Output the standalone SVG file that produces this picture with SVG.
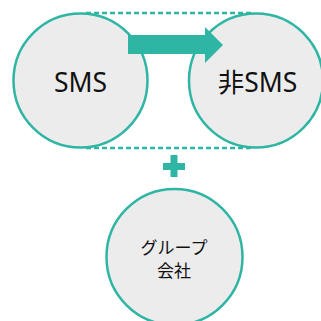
<svg xmlns="http://www.w3.org/2000/svg" width="321" height="321" viewBox="0 0 321 321">
<style>
.node circle{fill:#ececec;stroke:#2fb5a3;stroke-width:2.5}
.dash{stroke:#2fb5a3;stroke-width:2.5;stroke-dasharray:5 3;fill:none}
.lbl{font-family:"Noto Sans","Noto Sans CJK JP",sans-serif;fill:#111;text-anchor:middle}
.jp{font-family:"Noto Sans CJK JP",sans-serif}
.teal{fill:#2fb5a3}
</style>
<rect width="321" height="321" fill="#fff"/>
<g id="connectors">
<line class="dash" x1="86" y1="13" x2="252" y2="13"/>
<line class="dash" x1="86" y1="148" x2="252" y2="148"/>
</g>
<g id="node-sms" class="node">
<circle cx="80.5" cy="80.5" r="67"/>
<text class="lbl" x="80.5" y="92" font-size="26.5">SMS</text>
</g>
<g id="node-nonsms" class="node">
<circle cx="256" cy="80.5" r="67"/>
<text class="lbl" x="257.5" y="92" font-size="26.5">非SMS</text>
</g>
<g id="arrow">
<polygon class="teal" points="128,35 205,35 205,27 223,45 205,63 205,54 128,54"/>
</g>
<g id="plus">
<rect class="teal" x="163" y="163" width="22" height="7"/>
<rect class="teal" x="170.5" y="155" width="7" height="22"/>
</g>
<g id="node-group" class="node">
<circle cx="174.5" cy="257" r="68"/>
<text class="lbl jp" x="174" y="254" font-size="17">グループ</text>
<text class="lbl jp" x="174" y="277" font-size="17">会社</text>
</g>
</svg>
